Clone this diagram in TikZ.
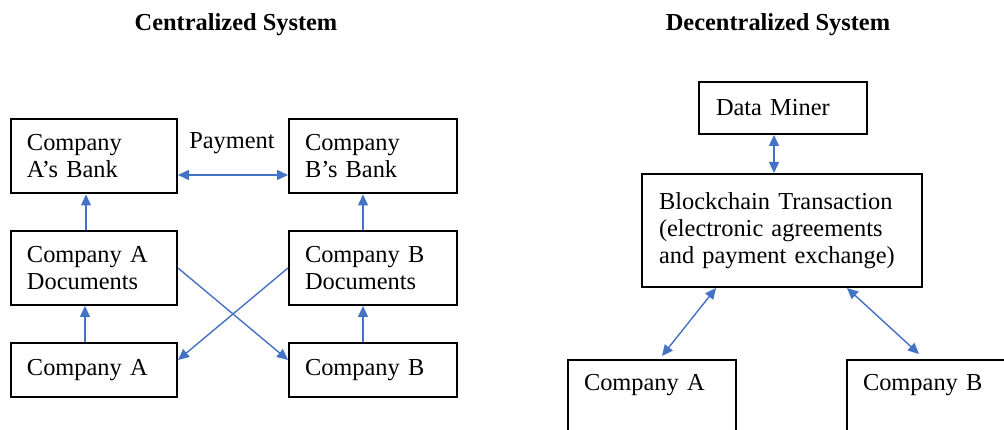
\documentclass[tikz,border=0pt]{standalone}
\usepackage{fontspec}
\setmainfont{Liberation Serif}
\usetikzlibrary{arrows.meta}
\definecolor{arrblue}{HTML}{4472C4}
\tikzset{
  box/.style={draw=black, line width=2pt, rectangle, align=left, inner xsep=16pt, inner ysep=0pt,
    font=\fontsize{24.4}{27}\selectfont, anchor=center},
  arr/.style={draw=arrblue, line width=1.4pt, arrows={-Triangle[length=11pt,width=10pt]}},
  arr2/.style={draw=arrblue, line width=1.4pt, arrows={Triangle[length=11pt,width=10pt]-Triangle[length=11pt,width=10pt]}},
  ttl/.style={font=\fontsize{24.4}{27}\selectfont\bfseries},
  lbl/.style={font=\fontsize{24.4}{27}\selectfont}
}
\begin{document}
\begin{tikzpicture}[x=1pt,y=-1pt]
\useasboundingbox[fill=white] (0,0) rectangle (1004,430);
% titles
\node[ttl] (t1) at (236,25) {Centralized System};
\node[ttl] (t2) at (778,25) {Decentralized System};
% centralized
\node[box, minimum width=166pt, minimum height=74pt, text width=134pt] (ab) at (94,156.5) {Company\\A’s Bank};
\node[box, minimum width=168pt, minimum height=74pt, text width=136pt] (bb) at (373,156.5) {Company\\B’s Bank};
\node[box, minimum width=166pt, minimum height=74pt, text width=134pt] (ad) at (94,268) {Company A\\Documents};
\node[box, minimum width=168pt, minimum height=74pt, text width=136pt] (bd) at (373,268) {Company B\\Documents};
\node[box, minimum width=166pt, minimum height=54pt, text width=134pt] (ca) at (94,370) {Company A};
\node[box, minimum width=168pt, minimum height=54pt, text width=136pt] (cb) at (373,370) {Company B};
\node[lbl] (pay) at (232,143) {Payment};
\draw[arr2] ([yshift=-18.5pt]ab.east) -- ([yshift=-18.5pt]bb.west);
\draw[arr] ([xshift=-8pt]ad.north) -- ([xshift=-8pt]ab.south);
\draw[arr] ([xshift=-9pt]ca.north) -- ([xshift=-9pt]ad.south);
\draw[arr] ([xshift=-10pt]bd.north) -- ([xshift=-10pt]bb.south);
\draw[arr] ([xshift=-10pt]cb.north) -- ([xshift=-10pt]bd.south);
\draw[arr] (ad.east) -- ([yshift=10pt]cb.west);
\draw[arr] (bd.west) -- ([yshift=10pt]ca.east);
% decentralized
\node[box, minimum width=168pt, minimum height=52pt, text width=134pt, inner xsep=17pt] (dm) at (783,108) {Data Miner};
\node[box, minimum width=280pt, minimum height=113pt, text width=246pt, inner xsep=17pt] (bc) at (782,230.5) {Blockchain Transaction\\(electronic agreements\\and payment exchange)};
\node[box, minimum width=168pt, minimum height=80pt, text width=136pt] (ca2) at (652,400) {Company A\\\strut};
\node[box, minimum width=168pt, minimum height=80pt, text width=136pt] (cb2) at (931,400) {Company B\\\strut};
\draw[arr2] ([xshift=-9pt]dm.south) -- ([xshift=-8pt]bc.north);
\draw[arr2] ([xshift=75pt]bc.south west) -- ([xshift=95pt,yshift=3pt]ca2.north west);
\draw[arr2] ([xshift=206pt]bc.south west) -- ([xshift=73pt,yshift=5pt]cb2.north west);
\end{tikzpicture}
\end{document}
